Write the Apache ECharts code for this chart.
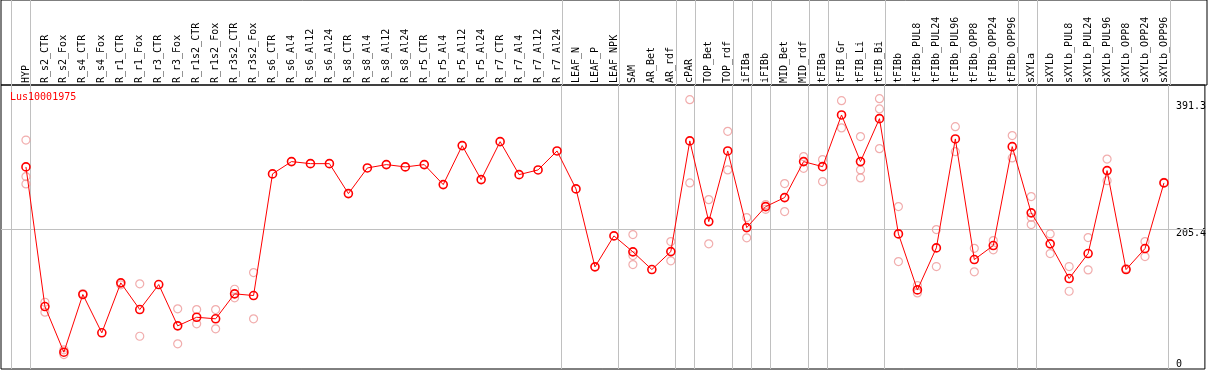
<!DOCTYPE html>
<html>
<head>
<meta charset="utf-8">
<script src="https://cdn.jsdelivr.net/npm/echarts@6/dist/echarts.min.js"></script>
<style>
html,body{margin:0;padding:0;background:#fff;}
#chart{width:1209px;height:370px;}
</style>
</head>
<body>
<div id="chart"></div>
<script>
const geneName = 'Lus10001975';
const categories = ['HYP','R_s2_CTR','R_s2_Fox','R_s4_CTR','R_s4_Fox','R_r1_CTR','R_r1_Fox','R_r3_CTR','R_r3_Fox','R_r1s2_CTR','R_r1s2_Fox','R_r3s2_CTR','R_r3s2_Fox','R_s6_CTR','R_s6_Al4','R_s6_Al12','R_s6_Al24','R_s8_CTR','R_s8_Al4','R_s8_Al12','R_s8_Al24','R_r5_CTR','R_r5_Al4','R_r5_Al12','R_r5_Al24','R_r7_CTR','R_r7_Al4','R_r7_Al12','R_r7_Al24','LEAF_N','LEAF_P','LEAF_NPK','SAM','AR_Bet','AR_rdf','cPAR','TOP_Bet','TOP_rdf','iFIBa','iFIBb','MID_Bet','MID_rdf','tFIBa','tFIB_Gr','tFIB_Li','tFIB_Bi','tFIBb','tFIBb_PUL8','tFIBb_PUL24','tFIBb_PUL96','tFIBb_OPP8','tFIBb_OPP24','tFIBb_OPP96','sXYLa','sXYLb','sXYLb_PUL8','sXYLb_PUL24','sXYLb_PUL96','sXYLb_OPP8','sXYLb_OPP24','sXYLb_OPP96'];
const meanValues = [296.0,91.5,24.6,109.1,53.0,126.2,87.1,123.7,63.2,75.8,73.5,110.1,107.6,285.8,303.8,300.8,300.8,256.9,294.5,299.4,296.0,299.4,270.1,327.2,277.4,333.0,284.7,291.6,319.4,263.8,149.6,195.0,171.6,145.7,172.0,334.1,215.9,319.4,207.1,237.9,251.1,303.8,296.4,372.1,303.8,366.7,197.9,115.9,177.4,337.0,160.3,180.8,325.7,228.7,183.3,132.5,169.1,290.6,145.7,176.4,272.6];
const replicateValues = [
  [335.4,281.8,271.1],[97.8,83.2],[28.1,21.2],[110.5],[],[123.3],[124.7,48.0],[],[88.2,36.9],[87.1,66.2],
  [87.1,58.8],[116.8,104.2],[141.3,73.5],[],[],[],[],[],[],[],
  [],[],[],[],[],[],[],[],[],[],
  [],[],[196.9,166.1,152.9],[],[186.6,158.4],[394.5,272.6],[248.1,183.3],[348.1,291.6],[221.8,192.1],[240.8,233.9],
  [271.6,230.6],[311.1,293.9],[306.7,274.5],[393.1,353.1],[340.4,291.6,279.9],[396.0,380.9,322.8],[237.9,157.4],[122.2,111.5],[204.2,150.1],[355.0,318.4],
  [176.8,142.3],[188.1,174.5],[341.9,309.2],[252.5,222.2,211.5],[197.9,169.1],[150.1,113.9],[192.5,145.2],[307.5,275.9],[147.1],[186.6,164.7],
  [273.5]
];
// index of the last category in each group (-1 = before the first)
const groupEnds = [-1,0,28,31,34,35,37,38,39,41,42,45,52,53,60];
const yTickLabels = [205.4, 391.3];
const yZeroLabel = [0];
const refLineValue = 205.4;

const FONT = 'DejaVu Sans Mono';
const sepOffset = 4.5/19;
const xMin = -25/19, xMax = 1181/19;
const yMax = 416;

const meanData = meanValues.map((v,i)=>[i,v]);
const repData = [];
replicateValues.forEach((arr,i)=>arr.forEach(v=>repData.push([i,v])));
const sepLines = groupEnds.map(g=>({xAxis: g + sepOffset}));

const chart = echarts.init(document.getElementById('chart'), null, {renderer:'canvas'});
chart.setOption({
  animation:false,
  backgroundColor:'#fff',
  title:{text:geneName,left:10,top:92,padding:0,textStyle:{color:'#ff0000',fontFamily:FONT,fontSize:10,fontWeight:'normal'}},
  grid:[
    {left:1,top:85,width:1206,height:284,show:true,borderColor:'#000',borderWidth:1,backgroundColor:'transparent'},
    {left:1,top:0,width:1206,height:85,show:true,borderColor:'#000',borderWidth:1,backgroundColor:'transparent'}
  ],
  xAxis:[
    {type:'value',gridIndex:0,min:xMin,max:xMax,position:'top',
     axisLine:{show:false},axisTick:{show:false},splitLine:{show:false},
     axisLabel:{customValues:categories.map((c,i)=>i),formatter:v=>categories[Math.round(v)]||'',
       rotate:90,margin:2,fontFamily:FONT,fontSize:10,color:'#000'}},
    {type:'value',gridIndex:1,min:xMin,max:xMax,show:false}
  ],
  yAxis:[
    {type:'value',gridIndex:0,min:0,max:yMax,position:'right',
     axisLine:{show:false},axisTick:{show:false},splitLine:{show:false},
     axisLabel:{customValues:yTickLabels,formatter:v=>String(v),inside:true,align:'left',margin:29,verticalAlign:'top',
       fontFamily:FONT,fontSize:10,color:'#000'}},
    {type:'value',gridIndex:0,min:0,max:yMax,position:'right',
     axisLine:{show:false},axisTick:{show:false},splitLine:{show:false},
     axisLabel:{customValues:yZeroLabel,formatter:v=>String(v),inside:true,align:'left',margin:29,verticalAlign:'bottom',
       fontFamily:FONT,fontSize:10,color:'#000'}},
    {type:'value',gridIndex:1,min:0,max:1,show:false}
  ],
  series:[
    {type:'line',xAxisIndex:1,yAxisIndex:2,data:[[0,0]],showSymbol:false,lineStyle:{width:0},silent:true,
     markLine:{silent:true,symbol:'none',label:{show:false},lineStyle:{color:'#c0c0c0',type:'solid',width:1},emphasis:{disabled:true},data:sepLines}},
    {type:'scatter',xAxisIndex:0,yAxisIndex:0,data:repData,symbol:'circle',symbolSize:8,silent:true,z:2,
     itemStyle:{color:'rgba(0,0,0,0)',borderColor:'#ee9999',borderWidth:1.2}},
    {type:'line',xAxisIndex:0,yAxisIndex:0,data:meanData,symbol:'circle',symbolSize:8,showAllSymbol:true,silent:true,z:3,
     lineStyle:{color:'#ff0000',width:1},
     itemStyle:{color:'rgba(0,0,0,0)',borderColor:'#ff0000',borderWidth:1.6},
     markLine:{silent:true,symbol:'none',label:{show:false},emphasis:{disabled:true},z:1,
       data:[{yAxis:refLineValue,lineStyle:{color:'#c0c0c0',type:'solid',width:1}}].concat(sepLines.map(s=>({xAxis:s.xAxis,lineStyle:{color:'#c0c0c0',type:'solid',width:1}})))}}
  ]
});
</script>
</body>
</html>
